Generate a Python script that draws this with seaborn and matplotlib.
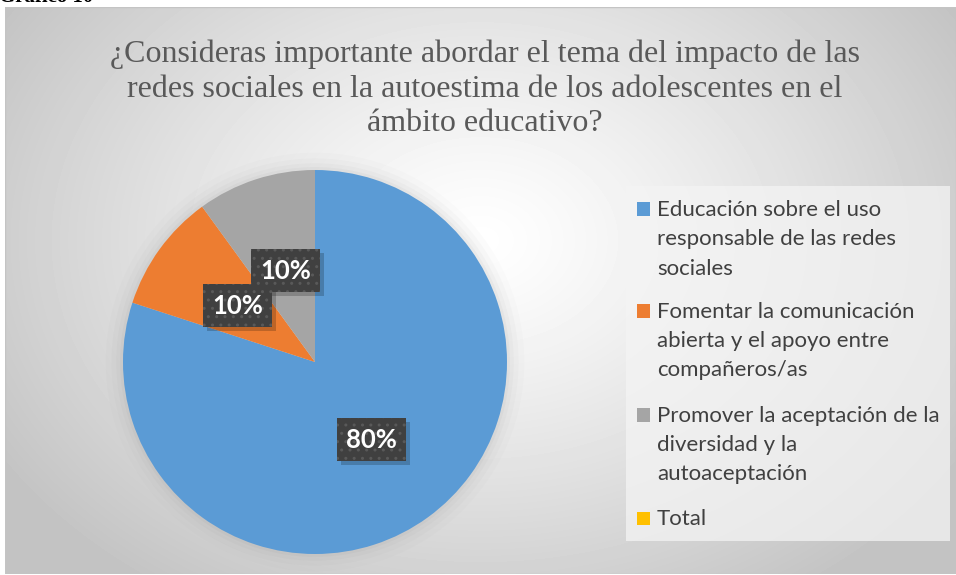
import textwrap
import numpy as np
import matplotlib
matplotlib.use("Agg")
import matplotlib.pyplot as plt
import matplotlib.transforms as mtransforms
from matplotlib.patches import Rectangle, Circle
import seaborn as sns

# ---- data -------------------------------------------------------------
categories = [
    "Educación sobre el uso responsable de las redes sociales",
    "Fomentar la comunicación abierta y el apoyo entre compañeros/as",
    "Promover la aceptación de la diversidad y la autoaceptación",
    "Total",
]
percentages = [80, 10, 10, 0]
slice_colors = ["#5B9BD5", "#ED7D31", "#A5A5A5", "#FFC000"]
title_lines = [
    "¿Consideras importante abordar el tema del impacto de las",
    "redes sociales en la autoestima de los adolescentes en el",
    "ámbito educativo?",
]
caption_text = "Gráfico 10"

# ---- style ------------------------------------------------------------
sns.set_style("white")
plt.rcParams["font.family"] = ["Lato", "DejaVu Sans"]
palette = sns.color_palette(slice_colors)

W, H = 956, 575
fig = plt.figure(figsize=(W / 100, H / 100), dpi=100)
fig.patch.set_facecolor("white")


def px(x, y):
    """pixel position (from top-left) -> figure fraction"""
    return x / W, 1 - y / H


# chart area with a soft radial gradient
fx0, fy0, fx1, fy1 = 5, 7, 956, 574
ax_bg = fig.add_axes([fx0 / W, 1 - fy1 / H, (fx1 - fx0) / W, (fy1 - fy0) / H])
xx, yy = np.meshgrid(np.arange(fx0, fx1), np.arange(fy0, fy1))
d = np.sqrt(((xx - 480) / 560.0) ** 2 + ((yy - 240) / 420.0) ** 2)
shade = 255 - (255 - 196) * np.clip(d, 0, 1) ** 1.2
ax_bg.imshow(shade, cmap="gray", vmin=0, vmax=255, aspect="auto",
             extent=(0, 1, 0, 1), interpolation="bilinear")
ax_bg.set_xlim(0, 1)
ax_bg.set_ylim(0, 1)
ax_bg.axis("off")
ax_bg.add_patch(Rectangle((0, 0), 1, 1, transform=ax_bg.transAxes, fill=False,
                          ec="#c4c4c4", lw=1))

# caption above the chart (mostly cut off by the page edge)
fig.text(*px(-1, 2.5), caption_text, family="Liberation Serif", weight="bold",
         fontsize=15, color="black", va="baseline", ha="left")

# title, one baseline per line
title_base = [62, 96.5, 131]
for line, yb in zip(title_lines, title_base):
    fig.text(*px(485, yb), line, family="Liberation Serif", fontsize=23,
             color="#595959", ha="center", va="baseline")

# ---- pie --------------------------------------------------------------
cx, cy, r = 315, 362, 192
ax = fig.add_axes([(cx - r) / W, 1 - (cy + r) / H, 2 * r / W, 2 * r / H])

# soft halo around the pie
for k, a in zip([1.09, 1.06, 1.035, 1.015], [0.025, 0.035, 0.045, 0.06]):
    ax.add_patch(Circle((0, 0), k, fc="#7f7f7f", ec="none", alpha=a,
                        clip_on=False, zorder=0))

label_size = 18.5
wedges, texts, autotexts = ax.pie(
    percentages,
    colors=palette,
    startangle=90,
    counterclock=False,
    radius=1,
    pctdistance=0.5,
    autopct=lambda p: f"{p:.0f}%" if p > 0 else "",
    wedgeprops=dict(linewidth=0),
    textprops=dict(color="white", fontsize=label_size, weight="bold",
                   family="Lato"),
)
ax.set_xlim(-1, 1)
ax.set_ylim(-1, 1)
ax.set_aspect("equal")
ax.axis("off")
for w in wedges:
    w.set_zorder(1)

shadow_tf = ax.transData + mtransforms.ScaledTranslation(4 / 100, -4 / 100,
                                                         fig.dpi_scale_trans)
for t in autotexts:
    if not t.get_text():
        continue
    x, y = t.get_position()
    t.set_zorder(4)
    t.set_bbox(dict(boxstyle="square,pad=0.36", fc="#404040", ec="#595959",
                    lw=0, hatch=".."))
    ax.text(x, y, t.get_text(), transform=shadow_tf, ha="center", va="center",
            fontsize=label_size, weight="bold", family="Lato", color="none",
            zorder=3,
            bbox=dict(boxstyle="square,pad=0.36", fc="black", ec="none",
                      alpha=0.2))

# ---- legend -----------------------------------------------------------
lx0, ly0, lx1, ly1 = 626, 186, 950, 541
fig.patches.append(Rectangle(px(lx0, ly1), (lx1 - lx0) / W, (ly1 - ly0) / H,
                             transform=fig.transFigure, fc="#f4f4f4",
                             ec="none", alpha=0.75, zorder=1))
line_step = 29.5
entry_base = [215.7, 317.5, 421.5, 525.0]
for name, col, yb in zip(categories, palette, entry_base):
    fig.patches.append(Rectangle(px(637, yb), 13.4 / W, 13.4 / H,
                                 transform=fig.transFigure, fc=col,
                                 ec="none", zorder=2))
    for i, line in enumerate(textwrap.wrap(name, 28)):
        fig.text(*px(657, yb + i * line_step), line, fontsize=16,
                 color="#404040", ha="left", va="baseline", zorder=3)

fig.savefig("out.png", dpi=100)
